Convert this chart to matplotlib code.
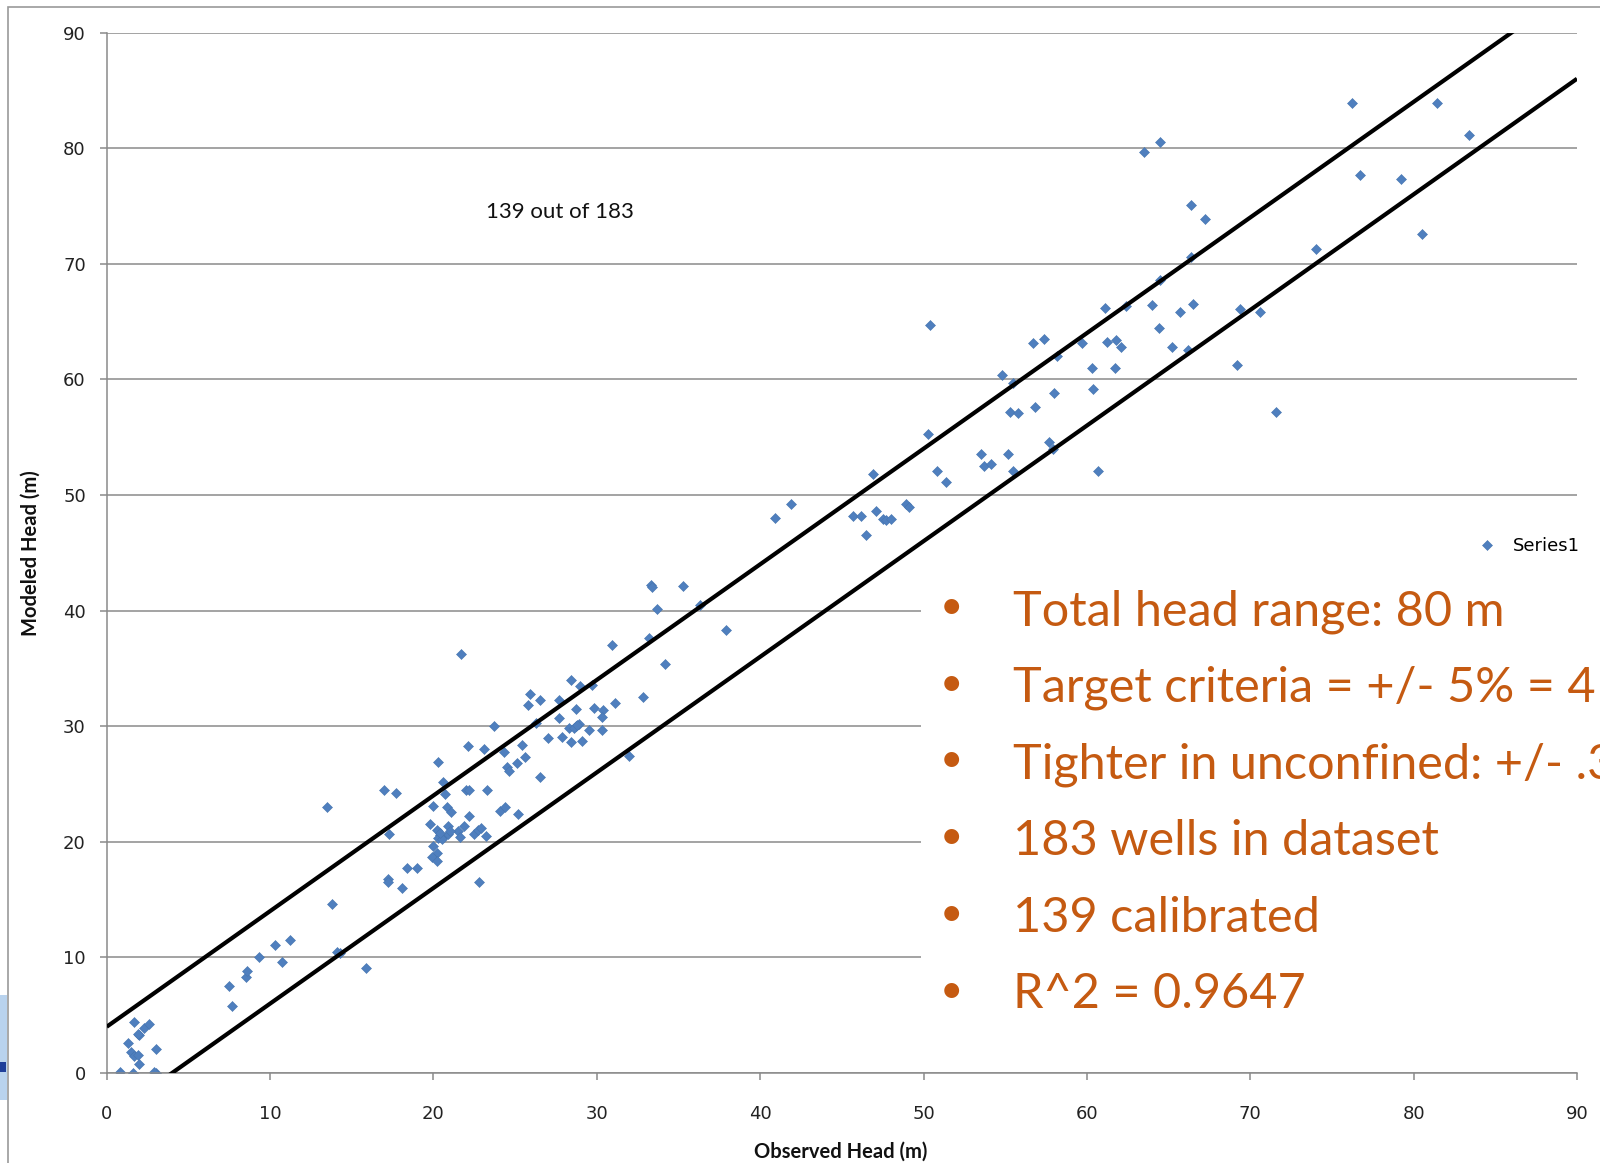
import matplotlib
matplotlib.use("Agg")
import matplotlib.pyplot as plt
from matplotlib.patches import Rectangle
from matplotlib.lines import Line2D

# ---------------- data ----------------
observed = [
    0.8, 1.6, 1.3, 1.7, 1.5, 1.7, 1.9, 2.0, 2.0, 1.9, 2.3, 2.6, 3.0, 3.0, 2.9,
    7.5, 7.7, 8.5, 8.6, 9.3, 10.3, 10.7, 11.2, 13.5, 13.8, 14.1, 14.3, 15.9,
    17.2, 17.2, 18.1, 18.4, 19.0, 17.0, 17.7, 17.3,
    20.3, 20.6, 20.7, 22.0, 22.2, 23.3, 20.0, 20.8, 21.1, 24.1, 24.4, 25.2, 22.2,
    19.8, 20.9, 21.9, 21.5, 21.6, 22.5, 22.7, 22.9, 23.2, 20.2, 20.4, 20.6, 20.3,
    20.5, 20.9, 21.0, 20.0, 20.2, 19.9, 20.2, 22.8, 21.7, 22.1, 23.1, 23.7, 24.3,
    25.4, 25.6, 25.1, 24.5, 24.6, 26.5, 20.4,
    25.8, 25.9, 26.5, 27.7, 26.3, 27.7, 27.0, 27.9, 28.4, 28.4, 29.0, 29.7, 28.7,
    29.8, 30.4, 31.1, 32.8, 30.3, 28.7, 28.9, 28.3, 28.6, 29.5, 30.3, 29.1, 32.0,
    30.9, 33.2, 34.2, 33.3, 33.4, 35.3, 33.7, 36.3, 37.9, 28.8,
    40.9, 41.9, 45.7, 46.2, 46.5, 46.9, 47.1, 47.5, 47.7, 48.0, 48.9, 49.1, 50.3,
    50.4, 50.8, 51.4, 53.5, 53.7, 54.1, 55.2, 55.5, 54.8, 55.5, 55.3, 55.8, 56.8,
    57.7, 57.9, 58.0, 56.7, 57.4, 58.2, 59.7, 60.4, 60.3, 61.7, 61.2, 61.8, 62.1,
    60.7, 61.1, 62.4, 64.0, 65.7, 66.5, 69.4, 70.6, 64.4, 65.2, 66.2, 69.2, 71.6,
    64.5, 66.4, 66.4, 67.2, 63.5, 64.5, 74.0, 80.5, 76.7, 79.2, 76.2, 81.4, 83.4,
]
modeled = [
    0.1, 0.0, 2.6, 4.4, 1.8, 1.5, 1.6, 0.8, 3.3, 3.4, 3.9, 4.2, 2.1, 0.0, 0.1,
    7.5, 5.8, 8.3, 8.8, 10.0, 11.1, 9.6, 11.5, 23.0, 14.6, 10.5, 10.4, 9.1,
    16.8, 16.5, 16.0, 17.7, 17.7, 24.5, 24.2, 20.7,
    26.9, 25.2, 24.1, 24.5, 24.5, 24.5, 23.1, 23.0, 22.6, 22.7, 23.0, 22.4, 22.2,
    21.5, 21.4, 21.4, 20.9, 20.4, 20.7, 21.0, 21.2, 20.5, 21.0, 20.6, 20.4, 20.3,
    20.2, 20.7, 20.9, 19.6, 19.0, 18.7, 18.3, 16.5, 36.2, 28.3, 28.0, 30.0, 27.8,
    28.4, 27.3, 26.8, 26.5, 26.1, 25.6, 20.8,
    31.8, 32.8, 32.3, 32.3, 30.3, 30.7, 29.0, 29.1, 28.6, 34.0, 33.5, 33.6, 31.5,
    31.6, 31.4, 32.0, 32.5, 30.8, 30.0, 30.2, 29.8, 29.8, 29.7, 29.7, 28.7, 27.4,
    37.0, 37.6, 35.4, 42.2, 42.0, 42.1, 40.1, 40.5, 38.3, 30.1,
    48.0, 49.2, 48.2, 48.2, 46.5, 51.8, 48.6, 47.9, 47.8, 47.9, 49.2, 49.0, 55.3,
    64.7, 52.1, 51.1, 53.5, 52.5, 52.7, 53.5, 52.1, 60.4, 59.7, 57.2, 57.1, 57.6,
    54.6, 54.0, 58.8, 63.1, 63.5, 62.0, 63.1, 59.2, 61.0, 61.0, 63.2, 63.4, 62.8,
    52.1, 66.2, 66.3, 66.4, 65.8, 66.5, 66.1, 65.8, 64.4, 62.8, 62.5, 61.2, 57.2,
    68.6, 70.6, 75.1, 73.9, 79.7, 80.5, 71.3, 72.6, 77.7, 77.3, 83.9, 83.9, 81.1,
]
x_ticks = [0, 10, 20, 30, 40, 50, 60, 70, 80, 90]
y_ticks = [0, 10, 20, 30, 40, 50, 60, 70, 80, 90]
target_m = 4          # +/- criterion in metres
series_name = "Series1"
x_label = "Observed Head (m)"
y_label = "Modeled Head (m)"
note = "139 out of 183"
bullets = [
    "Total head range: 80 m",
    "Target criteria = +/- 5% = 4 m",
    "Tighter in unconfined: +/- .3 m",
    "183 wells in dataset",
    "139 calibrated",
    "R^2 = 0.9647",
]

# ---------------- figure ----------------
W, H = 1600, 1163
fig = plt.figure(figsize=(W / 100, H / 100), dpi=100)
fig.patch.set_facecolor("white")

def fx(px):
    return px / W

def fy(py):
    return 1 - py / H

# outer chart frame
fig.add_artist(Rectangle((fx(8), fy(1200)), 2.0, fy(7) - fy(1200),
                         transform=fig.transFigure, facecolor="none",
                         edgecolor="#9a9a9a", lw=1.2, zorder=0))
# bit of the slide background picture peeking out at lower left
fig.add_artist(Rectangle((0, fy(1100)), fx(7), fy(995) - fy(1100),
                         transform=fig.transFigure, facecolor="#b9d3ee",
                         edgecolor="none", zorder=0))
fig.add_artist(Rectangle((0, fy(1072)), fx(6), fy(1062) - fy(1072),
                         transform=fig.transFigure, facecolor="#1f3f9a",
                         edgecolor="none", zorder=0))

ax = fig.add_axes([fx(106.7), fy(1073), fx(1577) - fx(106.7), fy(32.5) - fy(1073)])
ax.set_facecolor("white")
ax.set_xlim(x_ticks[0], x_ticks[-1])
ax.set_ylim(y_ticks[0], y_ticks[-1])
ax.set_xticks(x_ticks)
ax.set_yticks(y_ticks)
grid_c = "#8a8a8a"
ax.yaxis.grid(True, color=grid_c, lw=1.1)
ax.set_axisbelow(True)
for s in ["top", "right"]:
    ax.spines[s].set_visible(False)
for s in ["left", "bottom"]:
    ax.spines[s].set_color(grid_c)
    ax.spines[s].set_linewidth(1.1)
ax.tick_params(axis="both", direction="out", length=5, width=1.1, color=grid_c,
               labelsize=13, labelcolor="#222222")
ax.tick_params(axis="y", pad=10)
ax.tick_params(axis="x", pad=18)

ax.plot(observed, modeled, linestyle="none", marker="D", ms=4.6,
        color="#4F7FBE", mec="#4574B0", mew=0.4, zorder=2, label=series_name)

lx = [x_ticks[0], x_ticks[-1]]
ax.plot(lx, [v + target_m for v in lx], color="black", lw=3.0, zorder=3,
        solid_capstyle="butt")
ax.plot(lx, [v - target_m for v in lx], color="black", lw=3.0, zorder=3,
        solid_capstyle="butt")

fig.text(fx(841), fy(1152), x_label, ha="center", va="center",
         fontsize=14.5, fontweight="bold", family="Lato", color="#111111")
fig.text(fx(31), fy(553), y_label, rotation=90, ha="center", va="center",
         fontsize=14.5, fontweight="bold", family="Lato", color="#111111")
fig.text(fx(560), fy(212), note, ha="center", va="center", fontsize=16,
         family="Lato", color="#111111")

# legend
leg_handle = Line2D([], [], linestyle="none", marker="D", ms=4.6,
                    color="#4F7FBE", mec="#4574B0", mew=0.4)
fig.legend([leg_handle], [series_name], loc="center left",
           bbox_to_anchor=(fx(1462), fy(546)), frameon=False,
           prop={"size": 13}, handlelength=1.0, handletextpad=0.9)

# white text box with bullet list
fig.add_artist(Rectangle((fx(921), fy(1062)), fx(1700) - fx(921), fy(568) - fy(1062),
                         transform=fig.transFigure, facecolor="white",
                         edgecolor="none", zorder=5))
orange = "#C55A11"
base0 = 625
step = 76.7
for i, t in enumerate(bullets):
    yb = base0 + i * step
    fig.text(fx(951), fy(yb - 6), "\u2022", ha="center", va="baseline",
             fontsize=29, family="Lato", color=orange, zorder=6)
    fig.text(fx(1013), fy(yb), t, ha="left", va="baseline", fontsize=35,
             family="Lato", color=orange, zorder=6)

fig.savefig("out.png", dpi=100, facecolor="white")
